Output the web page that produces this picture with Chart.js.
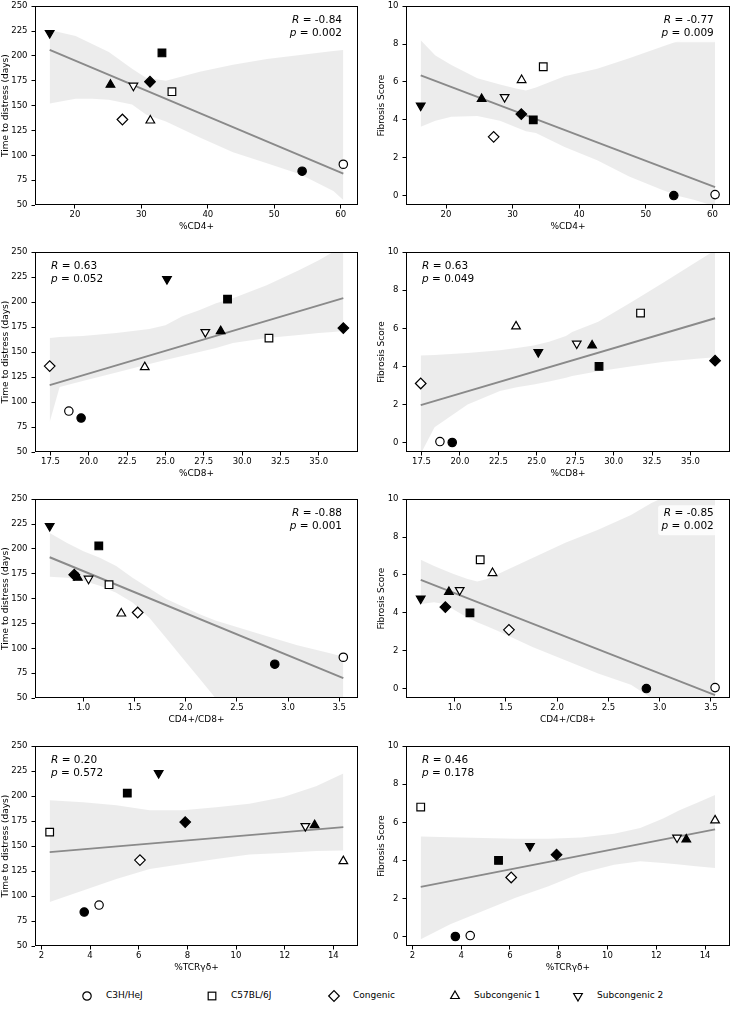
<!DOCTYPE html>
<html><head><meta charset="utf-8">
<script src="https://cdn.jsdelivr.net/npm/chart.js@4.4.1/dist/chart.umd.min.js"></script>
<style>
html,body{margin:0;padding:0;background:#fff;width:736px;height:1015px;overflow:hidden;}
body{position:relative;font-family:'DejaVu Sans',sans-serif;}
canvas{position:absolute;}
.leg{position:absolute;font-size:9px;line-height:11px;color:#000;white-space:nowrap;}
.legm{position:absolute;}
</style></head><body>
<div id="legend"></div>
<script>
// ---------- data (order: C3H/HeJ, C57BL/6J, Congenic, Subcongenic 1, Subcongenic 2) ----------
const strains = ['C3H/HeJ', 'C57BL/6J', 'Congenic', 'Subcongenic 1', 'Subcongenic 2'];

const timeOpen   = [91, 164, 136, 135, 170];
const timeFilled = [84, 203, 174, 171, 223];
const fibOpen    = [0.05, 6.8, 3.1, 6.1, 5.2];
const fibFilled  = [0, 4.0, 4.3, 5.1, 4.75];

const cd4Open    = [60.4, 34.6, 27.15, 31.35, 28.8];
const cd4Filled  = [54.2, 33.1, 31.3, 25.35, 16.2];
const cd8Open    = [18.7, 31.75, 17.45, 23.65, 27.6];
const cd8Filled  = [19.5, 29.05, 36.6, 28.6, 25.1];
const ratioOpen  = [3.54, 1.25, 1.53, 1.37, 1.05];
const ratioFilled= [2.87, 1.15, 0.91, 0.945, 0.67];
const tcrOpen    = [4.37, 2.34, 6.05, 14.41, 12.85];
const tcrFilled  = [3.76, 5.53, 7.91, 13.23, 6.82];

// tick labels
const timeTicks  = [50, 75, 100, 125, 150, 175, 200, 225, 250];
const fibTicks   = [0, 2, 4, 6, 8, 10];
const cd4Ticks   = [20, 30, 40, 50, 60];
const cd8Ticks   = [17.5, 20, 22.5, 25, 27.5, 30, 32.5, 35];
const ratioTicks = [1.0, 1.5, 2.0, 2.5, 3.0, 3.5];
const tcrTicks   = [2, 4, 6, 8, 10, 12, 14];

// regression lines: [x0, y0, x1, y1]
const fitCd4Time   = [16.2, 206, 60.4, 81.5];
const fitCd4Fib    = [16.2, 6.35, 60.4, 0.45];
const fitCd8Time   = [17.45, 117, 36.6, 204];
const fitCd8Fib    = [17.45, 1.96, 36.6, 6.53];
const fitRatioTime = [0.67, 191.6, 3.54, 70];
const fitRatioFib  = [0.67, 5.74, 3.54, -0.35];
const fitTcrTime   = [2.34, 144, 14.41, 169];
const fitTcrFib    = [2.34, 2.61, 14.41, 5.63];

// confidence bands
const bandCd4TimeX  = [16.2, 20.1, 22.6, 25.1, 28.6, 30.7, 33.7, 38.8, 43.8, 48.9, 53.9, 58.9, 60.4];
const bandCd4TimeHi = [226, 220, 212, 204, 187, 178, 175, 184, 191, 197, 201, 205, 206];
const bandCd4TimeLo = [152, 157, 157, 156, 151, 141, 134, 118, 103, 92, 81, 64, 55];

const bandCd4FibX  = [16.2, 18.4, 20.8, 24.7, 28.1, 30.5, 32.0, 33.5, 37.8, 42.7, 47.5, 52.4, 55.2, 57.2, 60.4];
const bandCd4FibHi = [8.2, 7.4, 6.9, 6.2, 5.86, 5.65, 5.55, 5.7, 6.3, 6.7, 7.25, 7.86, 8.2, 8.2, 8.2];
const bandCd4FibLo = [3.63, 3.95, 4.16, 4.2, 3.95, 3.6, 3.4, 3.3, 2.56, 1.86, 1.0, 0.3, -0.05, -0.22, -0.57];

const bandCd8TimeX  = [17.45, 18.1, 19.6, 21.8, 23.95, 25.0, 26.1, 27.2, 28.3, 29.4, 31.6, 33.7, 35.0, 35.9, 36.6];
const bandCd8TimeHi = [164, 165, 166, 169, 173, 177, 186, 192, 199, 204, 217, 232, 242, 250, 258];
const bandCd8TimeLo = [80, 115, 121, 129.5, 138, 142, 146, 150, 154, 159, 164, 167, 169, 170, 171];

const bandCd8FibX  = [17.45, 18.35, 20.5, 22.6, 23.7, 24.8, 25.8, 26.9, 27.3, 29.0, 31.2, 33.3, 35.4, 36.6];
const bandCd8FibHi = [4.57, 4.6, 4.7, 4.85, 4.97, 5.1, 5.3, 5.6, 5.8, 6.35, 7.4, 8.44, 9.5, 10.1];
const bandCd8FibLo = [-0.6, 0.8, 2.0, 2.7, 2.9, 3.05, 3.2, 3.4, 3.5, 3.75, 4.0, 4.24, 4.4, 4.48];

const bandRatioTimeX  = [0.67, 0.84, 1.0, 1.16, 1.32, 1.48, 1.65, 1.81, 1.97, 2.13, 2.29, 2.45, 2.77, 3.09, 3.41, 3.54];
const bandRatioTimeHi = [216, 206, 197.6, 191, 182.7, 171, 160, 149.5, 142, 134.6, 128, 123, 113, 103, 95, 91.5];
const bandRatioTimeLo = [172, 171, 168, 163, 156, 146, 130, 110, 90, 70, 50, 35, 5, -25, -55, -70];

const bandRatioFibX  = [0.67, 0.8, 0.9, 0.99, 1.12, 1.22, 1.31, 1.44, 1.76, 2.08, 2.4, 2.72, 2.92, 3.2, 3.54];
const bandRatioFibHi = [6.8, 6.47, 6.25, 6.05, 5.8, 5.65, 5.77, 6.09, 6.9, 7.7, 8.38, 9.17, 9.8, 10.5, 11.5];
const bandRatioFibLo = [4.47, 4.56, 4.47, 4.17, 3.77, 3.5, 3.3, 3.0, 2.2, 1.5, 0.8, 0.2, -0.5, -1.0, -1.6];

const bandTcrTimeX  = [2.34, 3.71, 5.08, 6.45, 7.81, 9.18, 10.55, 11.92, 13.29, 14.41];
const bandTcrTimeHi = [196, 194, 191, 186, 186, 189, 192.5, 199, 210, 222.6];
const bandTcrTimeLo = [94, 105.5, 117, 127, 132, 137, 141.7, 143, 145, 145.7];

const bandTcrFibX  = [2.34, 3.55, 4.89, 6.23, 7.58, 8.92, 10.27, 11.34, 12.28, 12.95, 13.63, 14.41];
const bandTcrFibHi = [5.25, 5.22, 5.17, 5.13, 5.13, 5.2, 5.4, 5.7, 6.2, 6.64, 7.0, 7.43];
const bandTcrFibLo = [-0.14, 0.64, 1.34, 2.03, 2.64, 3.34, 3.77, 3.95, 3.86, 3.78, 3.69, 3.6];

// correlation statistics shown in each panel
const statR = ['-0.84', '-0.77', '0.63', '0.63', '-0.88', '-0.85', '0.20', '0.46'];
const statP = ['0.002', '0.009', '0.052', '0.049', '0.001', '0.002', '0.572', '0.178'];

// ---------- styling ----------
const markerStyle  = ['circle', 'rect', 'rectRot', 'triangle', 'triangle'];
const markerRot    = [0, 0, 0, 0, 180];
const markerRadius = [4.2, 5.4, 5.3, 5.0, 5.0];
const FONT = "'DejaVu Sans', sans-serif";
Chart.defaults.font.family = FONT;
Chart.defaults.color = '#000';

const COLS = [{cx: 0, cw: 366, L: 35, R: 358, yTitlePad: 0},
              {cx: 368, cw: 368, L: 406, R: 735, yTitlePad: 8}];
const ROWS = [{T: 4, B: 205}, {T: 250, B: 452}, {T: 497, B: 698}, {T: 744, B: 946}];

function padRange(a, b) {
  const all = a.concat(b);
  const mn = Math.min(...all), mx = Math.max(...all), m = (mx - mn) * 0.05;
  return [mn - m, mx + m];
}
function pts(xs, ys) { return xs.map((x, i) => ({x: x, y: ys[i]})); }

const boxPlugin = {
  id: 'boxAndStats',
  afterDatasetsDraw(chart) {
    const {ctx, chartArea: a} = chart;
    const st = chart.options.plugins.boxAndStats;
    // stats text
    const fs = 10.5;
    const it = 'italic ' + fs + 'px ' + FONT, nf = fs + 'px ' + FONT;
    ctx.save();
    const lines = [['R', ' = ' + st.r], ['p', ' = ' + st.p]];
    const widths = lines.map(l => { ctx.font = it; const w1 = ctx.measureText(l[0]).width; ctx.font = nf; return [w1, ctx.measureText(l[1]).width]; });
    const maxW = Math.max(...widths.map(w => w[0] + w[1]));
    const base = [a.top + 17, a.top + 29.6];
    const bx0 = st.align === 'right' ? a.right - 16 - maxW : a.left + 16;
    ctx.fillStyle = 'rgba(255,255,255,0.85)';
    ctx.beginPath();
    if (ctx.roundRect) ctx.roundRect(bx0 - 3.5, a.top + 6, maxW + 7, 30, 3); else ctx.rect(bx0 - 3.5, a.top + 6, maxW + 7, 30);
    ctx.fill();
    ctx.fillStyle = '#000';
    ctx.textBaseline = 'alphabetic';
    ctx.textAlign = 'left';
    lines.forEach((l, i) => {
      const w = widths[i][0] + widths[i][1];
      let x = st.align === 'right' ? a.right - 16 - w : a.left + 16;
      ctx.font = it; ctx.fillText(l[0], x, base[i]);
      ctx.font = nf; ctx.fillText(l[1], x + widths[i][0], base[i]);
    });
    // axes frame
    ctx.strokeStyle = '#000';
    ctx.lineWidth = 1;
    ctx.strokeRect(Math.round(a.left) + 0.5, Math.round(a.top) + 0.5, Math.round(a.right - a.left) - 1, Math.round(a.bottom - a.top) - 1);
    ctx.restore();
  }
};

function makePanel(idx, rowI, colI, xo, xf, yo, yf, fit, bx, bhi, blo, xTicks, yTicks, xTitle, yTitle, yRange, xDec) {
  const row = ROWS[rowI], col = COLS[colI];
  const cv = document.createElement('canvas');
  const h = row.B - row.T + 36;
  cv.width = col.cw; cv.height = h;
  cv.style.left = col.cx + 'px'; cv.style.top = (row.T - 4) + 'px';
  cv.style.width = col.cw + 'px'; cv.style.height = h + 'px';
  document.body.appendChild(cv);
  const xr = padRange(xo, xf);
  const bandColor = 'rgba(128,128,128,0.15)';
  const tickGrid = {display: true, drawOnChartArea: false, drawTicks: true, tickLength: 3.5, tickColor: '#000', tickWidth: 1, color: '#000'};
  new Chart(cv, {
    type: 'line',
    data: {
      datasets: [
        {data: pts(xo, yo), showLine: false, pointStyle: markerStyle, pointRotation: markerRot, pointRadius: markerRadius,
         pointBackgroundColor: '#fff', pointBorderColor: '#000', pointBorderWidth: 1.2, order: 0},
        {data: pts(xf, yf), showLine: false, pointStyle: markerStyle, pointRotation: markerRot, pointRadius: markerRadius,
         pointBackgroundColor: '#000', pointBorderColor: '#000', pointBorderWidth: 1.2, order: 0},
        {data: [{x: fit[0], y: fit[1]}, {x: fit[2], y: fit[3]}], borderColor: '#8a8a8a', borderWidth: 1.9, pointRadius: 0, fill: false, order: 1},
        {data: pts(bx, bhi), borderWidth: 0, borderColor: 'rgba(0,0,0,0)', pointRadius: 0, fill: '+1', backgroundColor: bandColor, order: 2},
        {data: pts(bx, blo), borderWidth: 0, borderColor: 'rgba(0,0,0,0)', pointRadius: 0, fill: false, order: 3}
      ]
    },
    options: {
      responsive: false, animation: false, devicePixelRatio: 1,
      events: [],
      layout: {padding: {top: 4, left: 0, bottom: 0, right: col.cx + col.cw - col.R}},
      plugins: {legend: {display: false}, tooltip: {enabled: false},
                boxAndStats: {r: statR[idx], p: statP[idx], align: statR[idx].startsWith('-') ? 'right' : 'left'}},
      scales: {
        x: {type: 'linear', min: xr[0], max: xr[1],
            grid: tickGrid, border: {display: false},
            ticks: {font: {size: 8.5}, padding: 1.5, maxRotation: 0, autoSkip: false,
                    callback: v => Number(v).toFixed(xDec)},
            title: {display: true, text: xTitle, font: {size: 9, lineHeight: 1.2}, padding: {top: 0, bottom: 5}},
            afterBuildTicks: s => { s.ticks = xTicks.map(v => ({value: v})); },
            afterFit: s => { s.height = 32; s.paddingLeft = 0; s.paddingRight = 0; }},
        y: {type: 'linear', min: yRange[0], max: yRange[1],
            grid: tickGrid, border: {display: false},
            ticks: {font: {size: 8.5}, padding: 4, autoSkip: false, callback: v => Number(v).toFixed(0)},
            title: {display: true, text: yTitle, font: {size: 9, lineHeight: 1.2}, padding: {top: col.yTitlePad, bottom: 0}},
            afterBuildTicks: s => { s.ticks = yTicks.map(v => ({value: v})); },
            afterFit: s => { s.width = col.L - col.cx; s.paddingTop = 0; s.paddingBottom = 0; }}
      }
    },
    plugins: [boxPlugin]
  });
}

const TIME = 'Time to distress (days)', FIB = 'Fibrosis Score';
const tR = [50, 250], fR = [-0.5, 10];
makePanel(0, 0, 0, cd4Open, cd4Filled, timeOpen, timeFilled, fitCd4Time, bandCd4TimeX, bandCd4TimeHi, bandCd4TimeLo, cd4Ticks, timeTicks, '%CD4+', TIME, tR, 0);
makePanel(1, 0, 1, cd4Open, cd4Filled, fibOpen, fibFilled, fitCd4Fib, bandCd4FibX, bandCd4FibHi, bandCd4FibLo, cd4Ticks, fibTicks, '%CD4+', FIB, fR, 0);
makePanel(2, 1, 0, cd8Open, cd8Filled, timeOpen, timeFilled, fitCd8Time, bandCd8TimeX, bandCd8TimeHi, bandCd8TimeLo, cd8Ticks, timeTicks, '%CD8+', TIME, tR, 1);
makePanel(3, 1, 1, cd8Open, cd8Filled, fibOpen, fibFilled, fitCd8Fib, bandCd8FibX, bandCd8FibHi, bandCd8FibLo, cd8Ticks, fibTicks, '%CD8+', FIB, fR, 1);
makePanel(4, 2, 0, ratioOpen, ratioFilled, timeOpen, timeFilled, fitRatioTime, bandRatioTimeX, bandRatioTimeHi, bandRatioTimeLo, ratioTicks, timeTicks, 'CD4+/CD8+', TIME, tR, 1);
makePanel(5, 2, 1, ratioOpen, ratioFilled, fibOpen, fibFilled, fitRatioFib, bandRatioFibX, bandRatioFibHi, bandRatioFibLo, ratioTicks, fibTicks, 'CD4+/CD8+', FIB, fR, 1);
makePanel(6, 3, 0, tcrOpen, tcrFilled, timeOpen, timeFilled, fitTcrTime, bandTcrTimeX, bandTcrTimeHi, bandTcrTimeLo, tcrTicks, timeTicks, '%TCRγδ+', TIME, tR, 0);
makePanel(7, 3, 1, tcrOpen, tcrFilled, fibOpen, fibFilled, fitTcrFib, bandTcrFibX, bandTcrFibHi, bandTcrFibLo, tcrTicks, fibTicks, '%TCRγδ+', FIB, fR, 0);

// ---------- legend ----------
const legMarkerX = [87, 212, 334, 455, 578];
const legY = 996;
function markerSvg(i) {
  const s = 14, c = 7, r = markerRadius[i];
  let shape = '';
  if (markerStyle[i] === 'circle') shape = `<circle cx="${c}" cy="${c}" r="${r}"/>`;
  else if (markerStyle[i] === 'rect') { const h = r * Math.SQRT1_2; shape = `<rect x="${c - h}" y="${c - h}" width="${2 * h}" height="${2 * h}"/>`; }
  else if (markerStyle[i] === 'rectRot') shape = `<polygon points="${c - r},${c} ${c},${c - r} ${c + r},${c} ${c},${c + r}"/>`;
  else {
    const sg = markerRot[i] === 180 ? -1 : 1;
    const p = [0, 120, 240].map(d => { const a = d * Math.PI / 180; return `${c + Math.sin(a) * r},${c - sg * Math.cos(a) * r}`; });
    shape = `<polygon points="${p.join(' ')}"/>`;
  }
  return `<svg class="legm" width="${s}" height="${s}" style="left:${legMarkerX[i] - c}px;top:${legY - c}px" fill="#fff" stroke="#000" stroke-width="1.2">${shape}</svg>`;
}
const leg = document.getElementById('legend');
let html = '';
strains.forEach((name, i) => {
  html += markerSvg(i);
  html += `<span class="leg" style="left:${legMarkerX[i] + 19}px;top:${legY - 6}px">${name}</span>`;
});
leg.innerHTML = html;
</script>
</body></html>
